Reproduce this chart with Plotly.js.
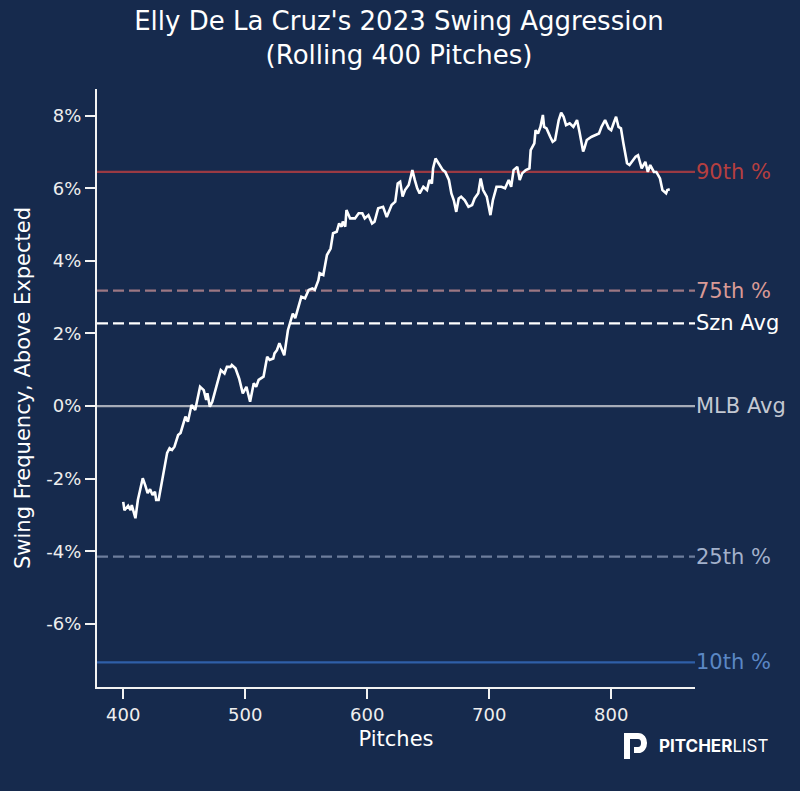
<!DOCTYPE html>
<html>
<head>
<meta charset="utf-8">
<script src="https://cdn.plot.ly/plotly-3.0.1.min.js"></script>
<style>
  html, body { margin: 0; padding: 0; background: #162a4d; }
  #chart { width: 800px; height: 791px; }
</style>
</head>
<body>
<div id="chart"></div>
<script>
// rolling 400-pitch swing frequency above expected (%)
var pitches = [400,401,404,406,407,410,412,416,418,420,
  422,424,426,427,429,432,434,436,438,440,
  442,445,447,451,453,456,459,463,466,468,
  469,471,473,477,480,483,485,488,489,492,
  495,498,501,504,507,509,511,515,518,520,
  523,524,526,528,530,532,535,539,541,544,
  546,549,552,555,557,560,561,564,567,570,
  572,575,577,579,580,582,583,586,590,593,
  596,598,601,604,606,609,613,616,620,623,
  625,627,629,631,634,636,637,639,641,643,
  646,649,651,653,654,656,659,662,664,667,
  669,671,673,675,677,680,683,686,688,691,
  693,695,698,701,703,706,710,713,716,718,
  720,723,725,727,730,733,734,737,738,740,
  742,744,745,747,750,752,754,757,759,761,
  763,766,769,772,774,777,778,780,784,788,
  790,792,795,798,800,802,804,806,808,810,
  813,815,820,822,825,828,830,832,835,837,
  840,842,845,846,848];

var swingAgg = [-2.64,-2.87,-2.75,-2.87,-2.73,-3.09,-2.59,-1.99,-2.18,-2.40,
  -2.29,-2.45,-2.36,-2.59,-2.59,-2.04,-1.76,-1.29,-1.16,-1.21,
  -1.12,-0.80,-0.74,-0.29,-0.43,0.03,-0.11,0.53,0.44,0.17,
  0.35,-0.02,0.12,0.63,0.99,0.90,1.08,1.08,1.13,1.04,
  0.76,0.35,0.53,0.12,0.63,0.53,0.72,0.81,1.36,1.27,
  1.31,1.45,1.54,1.73,1.54,1.40,2.09,2.55,2.42,2.78,
  3.01,2.97,3.20,3.24,3.20,3.47,3.66,3.61,4.16,4.34,
  4.76,4.80,5.03,4.94,5.08,4.94,5.40,5.17,5.17,5.31,
  5.31,5.17,5.26,5.03,5.08,5.45,5.49,5.21,5.54,5.63,
  6.13,6.18,5.77,5.95,6.09,6.36,6.50,6.23,6.00,5.86,
  6.04,5.95,6.23,6.13,6.55,6.82,6.64,6.50,6.45,6.23,
  5.86,5.67,5.35,5.72,5.77,5.67,5.49,5.54,5.72,5.86,
  6.27,5.95,5.77,5.26,5.67,6.04,6.04,6.00,6.23,6.04,
  6.50,6.59,6.23,6.41,6.50,6.55,7.05,7.24,7.60,7.51,
  7.69,8.02,7.69,7.65,7.42,7.28,7.33,7.88,8.08,7.97,
  7.74,7.79,7.69,7.88,7.56,7.01,7.10,7.33,7.42,7.47,
  7.51,7.69,7.88,7.65,7.60,7.79,7.97,7.69,7.65,7.24,
  6.69,6.64,6.87,6.91,6.55,6.73,6.45,6.64,6.45,6.45,
  6.27,5.95,5.86,5.95,5.97];

// reference levels
var refNames  = ['90th %', '75th %', 'Szn Avg', 'MLB Avg', '25th %', '10th %'];
var refValues = [6.45, 3.18, 2.28, 0, -4.15, -7.06];

var xTicks = [400, 500, 600, 700, 800];
var yTicks = [-6, -4, -2, 0, 2, 4, 6, 8];
var yTickLabels = ['-6%', '-4%', '-2%', '0%', '2%', '4%', '6%', '8%'];

// styling for each reference line (line colour, label colour, dash)
var refLine  = ['#9a3a43', '#9c7783', '#ffffff', '#a6acb8', '#6d7d9c', '#2f5fa8'];
var refText  = ['#b53f40', '#d99a96', '#ffffff', '#c3c8d2', '#a3b1cb', '#5b87c4'];
var refDash  = ['solid', '11px,5px', '11px,5px', 'solid', '11px,5px', 'solid'];

var bg = '#162a4d';
var fnt = 'DejaVu Sans';

var shapes = [];
var annotations = [];
for (let i = 0; i < refNames.length; i++) {
  shapes.push({
    type: 'line', xref: 'paper', yref: 'y',
    x0: 0, x1: 1, y0: refValues[i], y1: refValues[i],
    line: {color: refLine[i], width: 2.2, dash: refDash[i]},
    layer: 'below'
  });
  annotations.push({
    xref: 'paper', yref: 'y', x: 0.998, y: refValues[i],
    xanchor: 'left', yanchor: 'middle',
    text: refNames[i], showarrow: false,
    font: {family: fnt, size: 21, color: refText[i]}
  });
}

// pitcher list logo (P mark + wordmark)
shapes.push({
  type: 'path', xref: 'paper', yref: 'paper',
  path: 'M 0.8863,-0.1204 L 0.8863,-0.0819 L 0.9047,-0.0819 ' +
        'C 0.9181,-0.0819 0.9181,-0.1054 0.9047,-0.1054 L 0.8980,-0.1054',
  line: {color: '#ffffff', width: 6}
});
annotations.push({
  xref: 'paper', yref: 'paper', x: 0.9365, y: -0.0987,
  xanchor: 'left', yanchor: 'middle', showarrow: false,
  text: '<b>PITCHER</b>LIST',
  font: {family: 'Inter', size: 17, color: '#ffffff'}
});

var trace = {
  x: pitches, y: swingAgg, type: 'scatter', mode: 'lines',
  line: {color: '#ffffff', width: 2.6},
  hoverinfo: 'x+y'
};

var layout = {
  width: 800, height: 791,
  paper_bgcolor: bg, plot_bgcolor: bg,
  margin: {l: 97, r: 105, t: 89, b: 104},
  showlegend: false,
  font: {family: fnt, color: '#ffffff'},
  title: {
    text: "Elly De La Cruz's 2023 Swing Aggression<br>(Rolling 400 Pitches)",
    font: {family: fnt, size: 26, color: '#ffffff'},
    xref: 'paper', x: 0.505, xanchor: 'center',
    yref: 'container', y: 0.962, yanchor: 'top'
  },
  xaxis: {
    range: [378.5, 868.7],
    tickvals: xTicks,
    ticks: 'outside', ticklen: 10, tickwidth: 2, tickcolor: '#f2f2f2',
    tickfont: {family: fnt, size: 18, color: '#eeeeee'},
    showline: true, linecolor: '#f2f2f2', linewidth: 2,
    showgrid: false, zeroline: false,
    title: {text: 'Pitches', standoff: 8, font: {family: fnt, size: 21, color: '#ffffff'}}
  },
  yaxis: {
    range: [-7.74, 8.735],
    tickvals: yTicks, ticktext: yTickLabels,
    ticks: 'outside', ticklen: 10, tickwidth: 2, tickcolor: '#f2f2f2',
    tickfont: {family: fnt, size: 18, color: '#eeeeee'},
    showline: true, linecolor: '#f2f2f2', linewidth: 2,
    showgrid: false, zeroline: false,
    title: {text: 'Swing Frequency, Above Expected', standoff: 10, font: {family: fnt, size: 21, color: '#ffffff'}}
  },
  shapes: shapes,
  annotations: annotations
};

Plotly.newPlot('chart', [trace], layout, {displayModeBar: false, staticPlot: true});
</script>
</body>
</html>
